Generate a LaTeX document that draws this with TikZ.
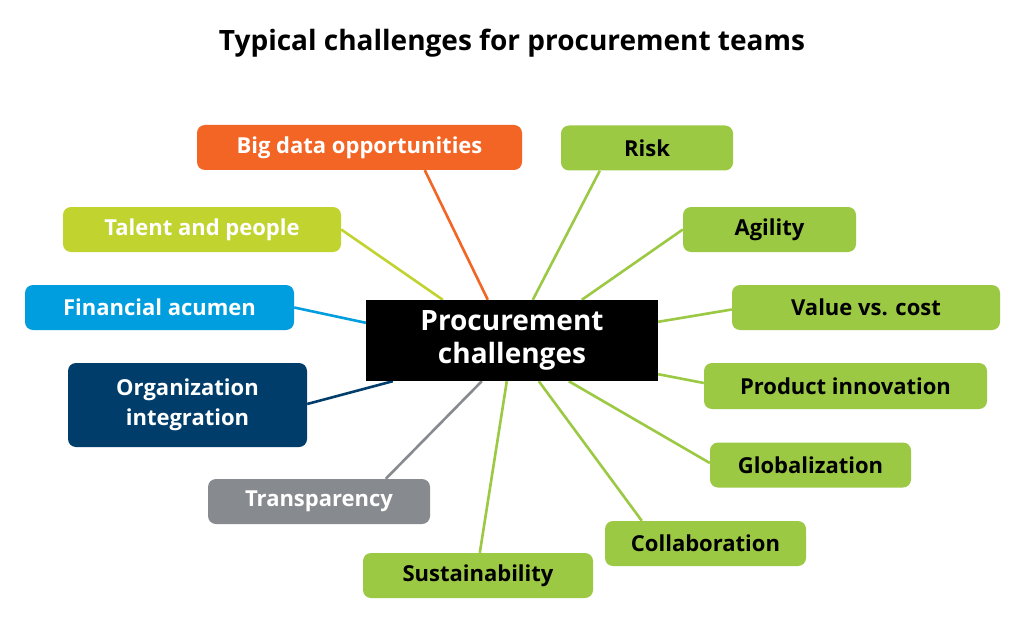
\documentclass[tikz,border=0pt]{standalone}
\usepackage{fontspec}
\setmainfont{Open Sans}
\usetikzlibrary{backgrounds}
\definecolor{cOrange}{RGB}{242,101,36}
\definecolor{cGreen}{RGB}{155,201,67}
\definecolor{cLime}{RGB}{193,211,47}
\definecolor{cBlue}{RGB}{0,158,222}
\definecolor{cNavy}{RGB}{0,61,106}
\definecolor{cGray}{RGB}{135,138,142}
\begin{document}
\begin{tikzpicture}[x=1pt,y=-1pt,
  box/.style={rounded corners=8pt, inner sep=0pt, minimum height=45pt,
    font=\fontsize{22}{30}\selectfont\bfseries, align=center},
  wbox/.style={box, text=white},
  gbox/.style={box, fill=cGreen, text=black},
  link/.style={line width=2.6pt},
  center/.style={fill=black, text=white, inner sep=0pt, minimum width=292pt, minimum height=81pt,
    font=\fontsize{28}{33}\selectfont\bfseries, align=center}]
\useasboundingbox (0,0) rectangle (1024,639);
\node[font=\fontsize{28}{32}\selectfont\bfseries] (title) at (512,43) {Typical challenges for procurement teams};

\node[center] (pc) at (512,340.5) {Procurement\\challenges};

\node[wbox, fill=cOrange, minimum width=325pt] (bd) at (359.5,147.5) {Big data opportunities};
\node[wbox, fill=cLime, minimum width=278pt] (tal) at (202,229.5) {Talent and people};
\node[wbox, fill=cBlue, minimum width=269pt] (fin) at (159.5,307.5) {Financial acumen};
\node[wbox, fill=cNavy, minimum width=239pt, minimum height=84pt] (org) at (187.5,405) {Organization\\integration};
\node[wbox, fill=cGray, minimum width=222pt] (tra) at (319,501.5) {Transparency};
\node[gbox, minimum width=230pt] (sus) at (478,575.5) {Sustainability};
\node[gbox, minimum width=201pt] (col) at (705.5,543.5) {Collaboration};
\node[gbox, minimum width=201pt] (glo) at (810.5,465) {Globalization};
\node[gbox, minimum width=283pt, minimum height=46pt] (pro) at (845.5,386) {Product innovation};
\node[gbox, minimum width=268pt] (val) at (866,307.5) {Value vs. cost};
\node[gbox, minimum width=173pt] (agi) at (769.5,229.5) {Agility};
\node[gbox, minimum width=172pt] (ris) at (647,148) {Risk};

\begin{scope}[on background layer]
\fill[white] (0,0) rectangle (1024,639);
\draw[link, cOrange] ([xshift=228pt]bd.south west) -- ([xshift=122pt]pc.north west);
\draw[link, cGreen] ([xshift=39pt]ris.south west) -- ([xshift=167pt]pc.north west);
\draw[link, cGreen] (agi.west) -- ([xshift=216pt]pc.north west);
\draw[link, cGreen] ([yshift=-2pt]val.west) -- ([yshift=-22pt]pc.north east);
\draw[link, cGreen] ([yshift=3pt]pro.west) -- ([yshift=7pt]pc.south east);
\draw[link, cGreen] ([yshift=2pt]glo.west) -- ([xshift=203pt]pc.south west);
\draw[link, cGreen] ([xshift=37pt]col.north west) -- ([xshift=173pt]pc.south west);
\draw[link, cGreen] ([xshift=117pt]sus.north west) -- ([xshift=141pt]pc.south west);
\draw[link, cGray] ([xshift=178pt]tra.north west) -- ([xshift=116pt]pc.south west);
\draw[link, cNavy] ([yshift=1pt]org.east) -- ([xshift=27pt]pc.south west);
\draw[link, cBlue] (fin.east) -- ([yshift=-23pt]pc.north west);
\draw[link, cLime] (tal.east) -- ([xshift=77pt]pc.north west);
\end{scope}
\end{tikzpicture}
\end{document}
